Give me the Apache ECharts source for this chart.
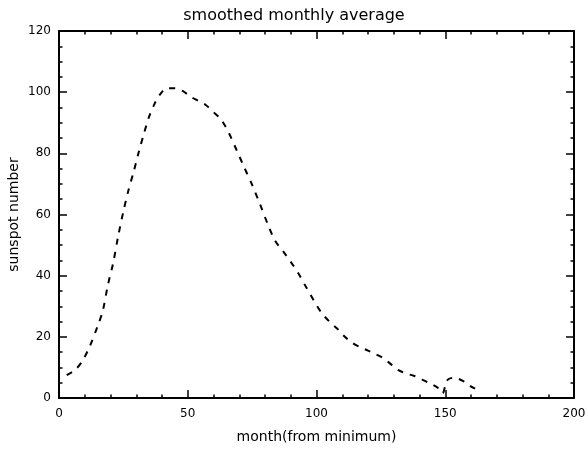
<!DOCTYPE html>
<html>
<head>
<meta charset="utf-8">
<script src="https://cdn.jsdelivr.net/npm/echarts@6/dist/echarts.min.js"></script>
<style>html,body{margin:0;padding:0;background:#fff}#c{width:588px;height:451px}</style>
</head>
<body>
<div id="c"></div>
<script>
const titleText = 'smoothed monthly average';
const xName = 'month(from minimum)';
const yName = 'sunspot number';
const months = [3,6,9,12,15,17,19,21,23,25,27,29,31,33,35,37,39,42,45,48,51,54,57,60,63,66,69,72,75,78,81,84,87,90,93,96,99,102,105,108,111,114,117,120,123,126,129,132,135,138,141,144,147,148,149,150,151,153,155,157,159,161,163];
const sunspots = [7.5,9,12,17,23.5,28.5,37,44,53,61,68,74,80.5,86.5,92,96,99,101.3,101.3,100.4,98.6,97.2,95.8,93.5,91,86.6,81,75.3,69.7,63.5,57,51.3,48,44.5,40.7,36.2,31.8,27.8,25,22.7,20,18,16.6,15.5,14.3,13,11,9,8,7.2,6,4.8,3.4,2.5,1.5,4,6,6.6,6.3,5.5,4.3,3.3,2.5];

const chart = echarts.init(document.getElementById('c'));
const font = 'DejaVu Sans';
const axisCommon = {
  axisLine: {show: true, onZero: false, lineStyle: {color: '#000', width: 2}},
  axisTick: {show: true, inside: true, length: 8, lineStyle: {color: '#000', width: 1.5}},
  minorTick: {show: true, length: 3.5, lineStyle: {color: '#000', width: 1.5}},
  splitLine: {show: false},
};
chart.setOption({
  animation: false,
  backgroundColor: '#fff',
  title: {text: titleText, left: 'center', top: 3, textStyle: {fontFamily: font, fontSize: 16, fontWeight: 'normal', color: '#000'}},
  grid: {left: 59, right: 14, top: 31, bottom: 53, containLabel: false, outerBoundsMode: 'none'},
  xAxis: [
    Object.assign({type: 'value', min: 0, max: 200, interval: 50, position: 'bottom',
      name: xName, nameLocation: 'middle', nameGap: 32, nameMoveOverlap: false,
      nameTextStyle: {fontFamily: font, fontSize: 14, color: '#000'},
      axisLabel: {fontFamily: font, fontSize: 12, color: '#000', margin: 10}},
      axisCommon, {minorTick: Object.assign({}, axisCommon.minorTick, {splitNumber: 5})}),
    Object.assign({type: 'value', min: 0, max: 200, interval: 50, position: 'top',
      axisLabel: {show: false}}, axisCommon, {minorTick: Object.assign({}, axisCommon.minorTick, {splitNumber: 5})})
  ],
  yAxis: [
    Object.assign({type: 'value', min: 0, max: 120, interval: 20, position: 'left',
      name: yName, nameLocation: 'middle', nameGap: 38, nameRotate: 90, nameMoveOverlap: false,
      nameTextStyle: {fontFamily: font, fontSize: 14, color: '#000'},
      axisLabel: {fontFamily: font, fontSize: 12, color: '#000', margin: 8}},
      axisCommon, {minorTick: Object.assign({}, axisCommon.minorTick, {splitNumber: 4})}),
    Object.assign({type: 'value', min: 0, max: 120, interval: 20, position: 'right',
      axisLabel: {show: false}}, axisCommon, {minorTick: Object.assign({}, axisCommon.minorTick, {splitNumber: 4})})
  ],
  series: [{
    type: 'line',
    data: months.map((m, i) => [m, sunspots[i]]),
    showSymbol: false,
    symbol: 'none',
    smooth: 0.3,
    lineStyle: {color: '#000', width: 2, type: [6, 7]},
    xAxisIndex: 0, yAxisIndex: 0
  }]
});
</script>
</body>
</html>
